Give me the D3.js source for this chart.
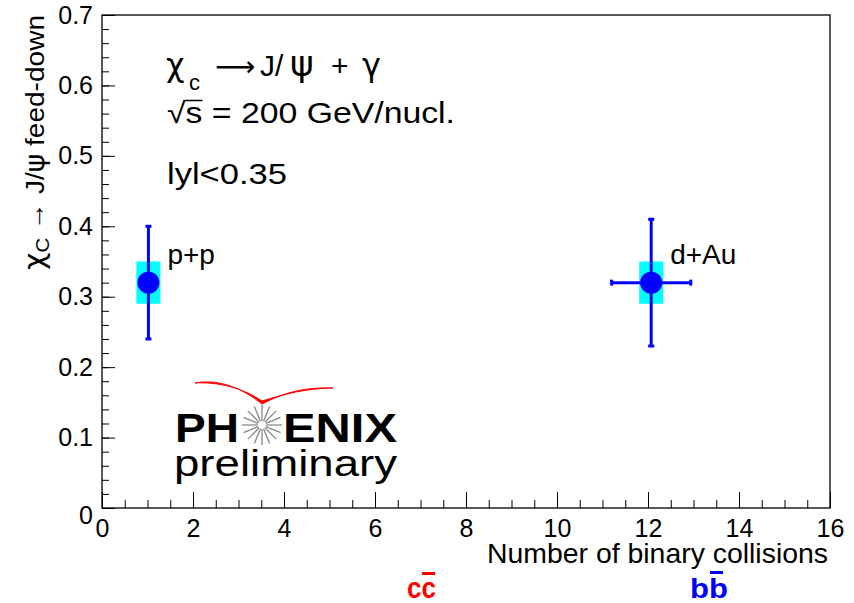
<!DOCTYPE html>
<html>
<head>
<meta charset="utf-8">
<script src="https://cdn.jsdelivr.net/npm/d3@7"></script>
<style>
  body { margin: 0; background: #fff; }
  text { font-family: "Liberation Sans", Arial, sans-serif; }
  .gr { font-family: "DejaVu Sans", sans-serif; }
</style>
</head>
<body>
<svg></svg>
<script>
// chi_c feed-down fraction vs number of binary collisions
var systems = ["p+p", "d+Au"];
var nColl = [1.02, 12.07];
var nCollErr = [0, 0.87];
var feedDown = [0.32, 0.32];
var statLo = [0.24, 0.23];
var statHi = [0.40, 0.41];
var sysLo = [0.29, 0.29];
var sysHi = [0.35, 0.35];

var xTicks = [0, 2, 4, 6, 8, 10, 12, 14, 16];
var yTicks = [0, 0.1, 0.2, 0.3, 0.4, 0.5, 0.6, 0.7];

var width = 854, height = 603;
var margin = {left: 102, right: 24, top: 15, bottom: 95};

var svg = d3.select("svg")
    .attr("width", width)
    .attr("height", height);

var x = d3.scaleLinear().domain([0, 16]).range([margin.left, width - margin.right]);
var y = d3.scaleLinear().domain([0, 0.7]).range([height - margin.bottom, margin.top]);

var x0 = x.range()[0], x1 = x.range()[1];
var y0 = y.range()[0], y1 = y.range()[1];

// minor ticks
var xMinor = d3.range(0, 16.001, 0.5).filter(function(d) { return d % 2 !== 0; });
var yMinor = d3.range(0, 0.7001, 0.02);

svg.append("g")
    .attr("transform", "translate(0," + y0 + ")")
    .call(d3.axisBottom(x).tickValues(xMinor).tickSize(-8).tickFormat(""))
    .call(function(g) { g.select(".domain").remove(); });

svg.append("g")
    .attr("transform", "translate(" + x0 + ",0)")
    .call(d3.axisLeft(y).tickValues(yMinor).tickSize(-7).tickFormat(""))
    .call(function(g) { g.select(".domain").remove(); });

var xAxis = svg.append("g")
    .attr("transform", "translate(0," + y0 + ")")
    .call(d3.axisBottom(x).tickValues(xTicks).tickSize(-16).tickPadding(11).tickFormat(d3.format("d")));
xAxis.select(".domain").remove();
xAxis.selectAll("text").attr("font-size", 25).attr("font-family", "Liberation Sans");

var yAxis = svg.append("g")
    .attr("transform", "translate(" + x0 + ",0)")
    .call(d3.axisLeft(y).tickValues(yTicks).tickSize(-13).tickPadding(9)
      .tickFormat(function(d) { return d === 0 ? "0" : d.toFixed(1); }));
yAxis.select(".domain").remove();
yAxis.selectAll("text").attr("font-size", 25).attr("font-family", "Liberation Sans");
yAxis.selectAll(".tick").filter(function(d) { return d === 0; }).select("text").attr("dy", "0.6em");

svg.selectAll(".tick line").attr("stroke", "#000").attr("stroke-width", 1);

// frame
svg.append("rect")
    .attr("x", x0).attr("y", y1)
    .attr("width", x1 - x0).attr("height", y0 - y1)
    .attr("fill", "none").attr("stroke", "#000").attr("stroke-width", 1.3);

// axis titles
svg.append("text")
    .attr("x", x1 - 2).attr("y", 563)
    .attr("text-anchor", "end")
    .attr("font-size", 27.5)
    .attr("textLength", 341).attr("lengthAdjust", "spacingAndGlyphs")
    .text("Number of binary collisions");

var yt = svg.append("text")
    .attr("transform", "translate(44," + y1 + ") rotate(-90)")
    .attr("text-anchor", "end")
    .attr("font-size", 26)
    .attr("textLength", 255).attr("lengthAdjust", "spacingAndGlyphs");
yt.append("tspan").attr("class", "gr").attr("font-size", 28).text("\u03C7");
yt.append("tspan").attr("font-size", 19).attr("dy", 5).text("C");
yt.append("tspan").attr("dy", -5).text(" \u2192 J/");
yt.append("tspan").attr("class", "gr").text("\u03C8");
yt.append("tspan").text(" feed-down");

// data
var pts = systems.map(function(s, i) {
  return {name: s, x: nColl[i], xe: nCollErr[i], y: feedDown[i],
          lo: statLo[i], hi: statHi[i], slo: sysLo[i], shi: sysHi[i]};
});

var g = svg.append("g");
var boxW = 24;

g.selectAll("rect.sys")
    .data(pts)
  .enter().append("rect")
    .attr("class", "sys")
    .attr("x", function(d) { return x(d.x) - boxW / 2; })
    .attr("y", function(d) { return y(d.shi); })
    .attr("width", boxW)
    .attr("height", function(d) { return y(d.slo) - y(d.shi); })
    .attr("fill", "#00ffff");

g.selectAll("line.ey")
    .data(pts)
  .enter().append("line")
    .attr("x1", function(d) { return x(d.x); })
    .attr("x2", function(d) { return x(d.x); })
    .attr("y1", function(d) { return y(d.lo); })
    .attr("y2", function(d) { return y(d.hi); })
    .attr("stroke", "#0000ff").attr("stroke-width", 3);

g.selectAll("line.ex")
    .data(pts.filter(function(d) { return d.xe > 0; }))
  .enter().append("line")
    .attr("x1", function(d) { return x(d.x - d.xe); })
    .attr("x2", function(d) { return x(d.x + d.xe); })
    .attr("y1", function(d) { return y(d.y); })
    .attr("y2", function(d) { return y(d.y); })
    .attr("stroke", "#0000ff").attr("stroke-width", 3);

// caps
pts.forEach(function(d) {
  [d.lo, d.hi].forEach(function(v) {
    g.append("line")
      .attr("x1", x(d.x) - 3).attr("x2", x(d.x) + 3)
      .attr("y1", y(v)).attr("y2", y(v))
      .attr("stroke", "#0000ff").attr("stroke-width", 3);
  });
  if (d.xe > 0) {
    [d.x - d.xe, d.x + d.xe].forEach(function(v) {
      g.append("line")
        .attr("x1", x(v)).attr("x2", x(v))
        .attr("y1", y(d.y) - 3).attr("y2", y(d.y) + 3)
        .attr("stroke", "#0000ff").attr("stroke-width", 3);
    });
  }
});

g.selectAll("circle")
    .data(pts)
  .enter().append("circle")
    .attr("cx", function(d) { return x(d.x); })
    .attr("cy", function(d) { return y(d.y); })
    .attr("r", 11)
    .attr("fill", "#0000ff");

g.selectAll("text.lab")
    .data(pts)
  .enter().append("text")
    .attr("x", function(d) { return x(d.x) + 19; })
    .attr("y", function(d) { return y(d.shi) + 2; })
    .attr("font-size", 28)
    .text(function(d) { return d.name; });

// header texts
var t1 = svg.append("text").attr("y", 76).attr("font-size", 30);
t1.append("tspan").attr("class", "gr").attr("x", 166).attr("font-size", 32).text("\u03C7");
t1.append("tspan").attr("x", 189).attr("dy", 14).attr("font-size", 22).text("c");
t1.append("tspan").attr("class", "gr").attr("x", 215).attr("dy", -14).attr("font-size", 28).text("\u27F6");
t1.append("tspan").attr("x", 260).text("J/");
t1.append("tspan").attr("class", "gr").attr("x", 290).attr("font-size", 36).text("\u03C8");
t1.append("tspan").attr("x", 331).text("+");
t1.append("tspan").attr("class", "gr").attr("x", 362).attr("font-size", 32).text("\u03B3");

var t2 = svg.append("text").attr("x", 167).attr("y", 123).attr("font-size", 29)
    .attr("textLength", 288).attr("lengthAdjust", "spacingAndGlyphs")
    .text("\u221As = 200 GeV/nucl.");
var sBox = t2.node().getExtentOfChar(1);
svg.append("line")
    .attr("x1", sBox.x - 1).attr("x2", sBox.x + sBox.width)
    .attr("y1", 100.5).attr("y2", 100.5)
    .attr("stroke", "#000").attr("stroke-width", 1.5);

svg.append("text").attr("x", 167).attr("y", 184).attr("font-size", 29)
    .attr("textLength", 120).attr("lengthAdjust", "spacingAndGlyphs").text("lyl<0.35");

// PHENIX preliminary logo
var logo = svg.append("g");
logo.append("path")
    .attr("d", "M195,383 C210,380 235,382 262,404 C285,392 305,387 333,388 " +
               "C305,388.5 285,394 262,401 C238,385 212,382 195,383 Z")
    .attr("fill", "#ff0000").attr("stroke", "#ff0000").attr("stroke-width", 1);
logo.append("text").attr("x", 175).attr("y", 442)
    .attr("font-family", "DejaVu Sans").attr("font-weight", "bold").attr("font-size", 40)
    .attr("textLength", 64).attr("lengthAdjust", "spacingAndGlyphs").text("PH");
logo.append("text").attr("x", 283).attr("y", 442)
    .attr("font-family", "DejaVu Sans").attr("font-weight", "bold").attr("font-size", 40)
    .attr("textLength", 114).attr("lengthAdjust", "spacingAndGlyphs").text("ENIX");
d3.range(16).forEach(function(k) {
  var a = k * Math.PI / 8;
  logo.append("line")
    .attr("x1", 262 + 4 * Math.cos(a)).attr("y1", 425 + 4 * Math.sin(a))
    .attr("x2", 262 + 20 * Math.cos(a)).attr("y2", 425 + 20 * Math.sin(a))
    .attr("stroke", "#888").attr("stroke-width", 1.3);
});
logo.append("text").attr("x", 174).attr("y", 476)
    .attr("font-family", "DejaVu Sans").attr("font-size", 36)
    .attr("textLength", 223).attr("lengthAdjust", "spacingAndGlyphs").text("preliminary");

// heavy-quark annotations
svg.append("text").attr("x", 407).attr("y", 598)
    .attr("font-family", "DejaVu Sans").attr("font-weight", "bold").attr("font-size", 29)
    .attr("fill", "#ff0000").attr("textLength", 29).attr("lengthAdjust", "spacingAndGlyphs").text("cc");
svg.append("rect").attr("x", 422).attr("y", 572).attr("width", 13).attr("height", 3).attr("fill", "#ff0000");
svg.append("text").attr("x", 690).attr("y", 598)
    .attr("font-family", "DejaVu Sans").attr("font-weight", "bold").attr("font-size", 28)
    .attr("fill", "#0000ff").attr("textLength", 38).attr("lengthAdjust", "spacingAndGlyphs").text("bb");
svg.append("rect").attr("x", 710).attr("y", 571).attr("width", 13).attr("height", 3).attr("fill", "#0000ff");
</script>
</body>
</html>
